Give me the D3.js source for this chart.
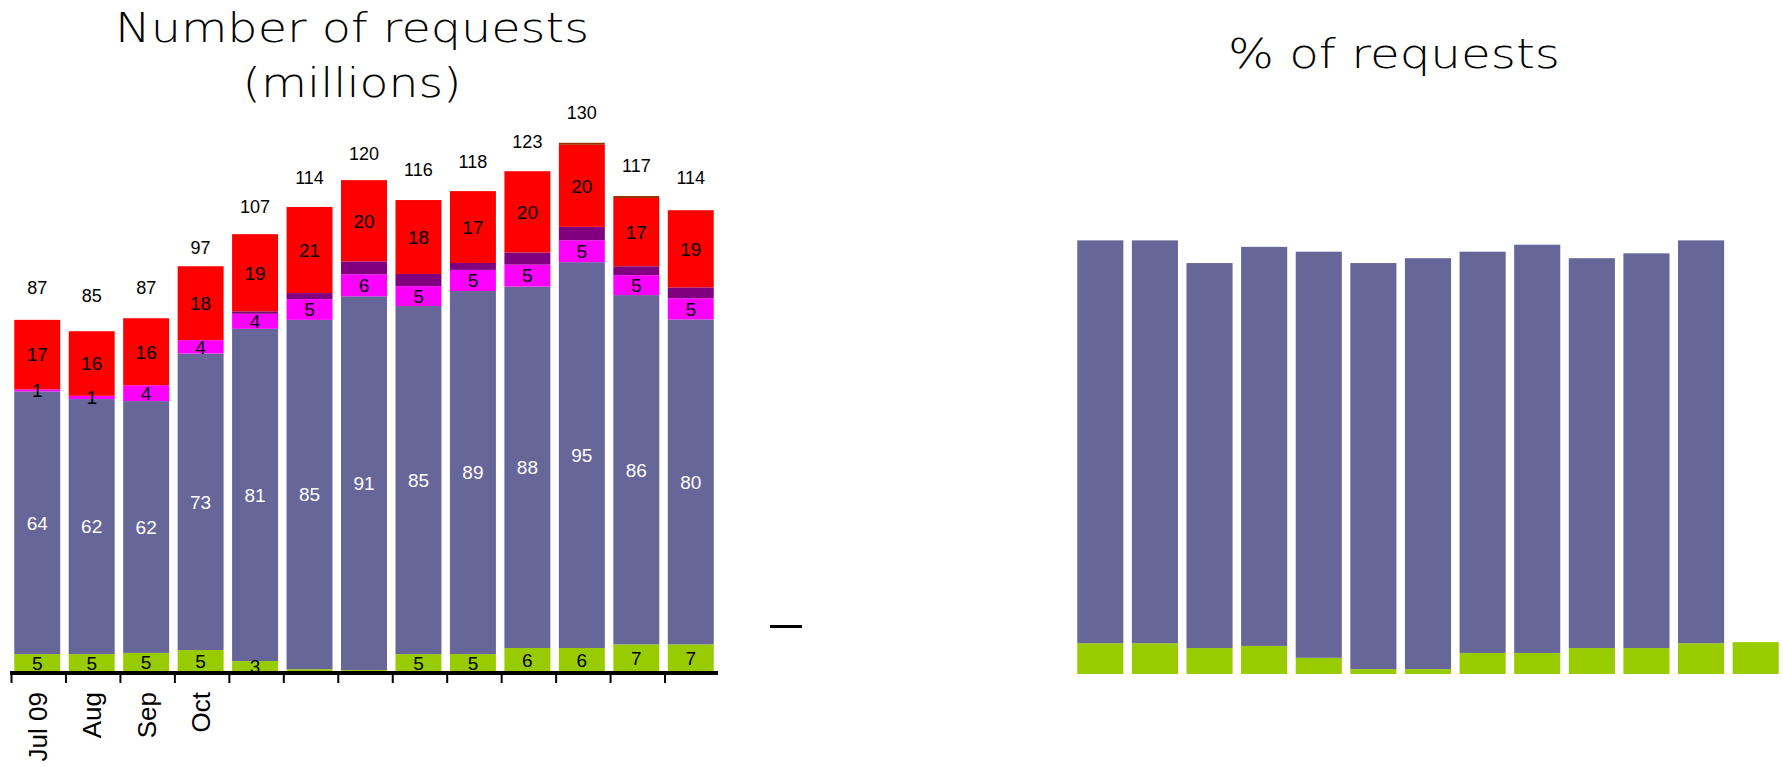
<!DOCTYPE html>
<html>
<head>
<meta charset="utf-8">
<script src="https://cdn.jsdelivr.net/npm/d3@7"></script>
<style>
  body { margin: 0; background: #fff; }
  svg { display: block; }
</style>
</head>
<body>
<div id="chart"></div>
<script>
// months on the x axis (only the first four are labelled in the original)
const months = ["Jul 09", "Aug", "Sep", "Oct", "Nov", "Dec", "Jan", "Feb", "Mar", "Apr", "May", "Jun", "Jul 10"];
const tickLabels = ["Jul 09", "Aug", "Sep", "Oct", "", "", "", "", "", "", "", "", ""];

// requests in millions, per segment
const green   = [4.4, 4.4, 4.7, 5.4, 2.7, 0.7, 0.5, 4.4, 4.4, 5.9, 5.9, 6.8, 6.8];
const blue    = [64.7, 62.8, 62, 73, 81.8, 86, 92, 85.7, 89.4, 89, 95, 86, 80];
const magenta = [0.5, 0.8, 3.9, 3.3, 3.7, 5.1, 5.4, 4.9, 5.2, 5.4, 5.4, 4.9, 5.2];
const purple  = [0, 0, 0, 0, 0.6, 1.5, 3.2, 3, 1.7, 3, 3.3, 2.2, 2.7];
const red     = [17.1, 15.9, 16.5, 18.2, 19, 21.2, 20, 18.2, 17.7, 20, 20.2, 16.8, 19];
const brown   = [0, 0, 0, 0, 0, 0, 0, 0, 0, 0, 0.5, 0.5, 0];

// labels printed in the segments and above the bars
const greenLabels   = ["5", "5", "5", "5", "3", "", "", "5", "5", "6", "6", "7", "7"];
const blueLabels    = ["64", "62", "62", "73", "81", "85", "91", "85", "89", "88", "95", "86", "80"];
const magentaLabels = ["1", "1", "4", "4", "4", "5", "6", "5", "5", "5", "5", "5", "5"];
const redLabels     = ["17", "16", "16", "18", "19", "21", "20", "18", "17", "20", "20", "17", "19"];
const totals        = [87, 85, 87, 97, 107, 114, 120, 116, 118, 123, 130, 117, 114];

// share of requests in percent (right chart)
const pctGreen = [5.7, 5.7, 4.8, 5.2, 3.0, 0.9, 0.9, 3.9, 3.9, 4.8, 4.8, 5.7, 5.9];
const pctBlue  = [74.6, 74.6, 71.3, 73.9, 75.2, 75.2, 76.1, 74.3, 75.6, 72.2, 73.1, 74.6, 0];

const colors = {
  green: "#99cc00",
  blue: "#666699",
  magenta: "#ff00ff",
  purple: "#800080",
  red: "#ff0000",
  brown: "#993300"
};

const width = 1783;
const height = 767;
const labelFont = "Liberation Sans, Arial, sans-serif";

const svg = d3.select("#chart").append("svg")
  .attr("width", width)
  .attr("height", height);

drawCountChart();
drawPercentChart();

function drawCountChart() {
  const rows = months.map((m, i) => ({
    month: m,
    green: green[i], blue: blue[i], magenta: magenta[i],
    purple: purple[i], red: red[i], brown: brown[i]
  }));

  const keys = ["green", "blue", "magenta", "purple", "red", "brown"];
  const series = d3.stack().keys(keys)(rows);

  const x = d3.scaleBand()
    .domain(months)
    .range([10, 718])
    .paddingInner(0.156)
    .paddingOuter(0.078);

  const y = d3.scaleLinear()
    .domain([0, 130])
    .range([672, 144]);

  const g = svg.append("g");

  // title (glyphs stretched to the width of the original)
  const title = g.append("text")
    .attr("text-anchor", "middle")
    .attr("font-family", "DejaVu Sans")
    .attr("font-weight", 200)
    .attr("font-size", 40)
    .attr("fill", "#000");
  title.append("tspan").attr("x", 352).attr("y", 42)
    .attr("textLength", 474).attr("lengthAdjust", "spacingAndGlyphs")
    .text("Number of requests");
  title.append("tspan").attr("x", 352).attr("y", 97)
    .attr("textLength", 219).attr("lengthAdjust", "spacingAndGlyphs")
    .text("(millions)");

  // stacked bars
  g.selectAll("g.layer")
    .data(series)
    .enter()
    .append("g")
    .attr("class", "layer")
    .attr("fill", d => colors[d.key])
    .selectAll("rect")
    .data(d => d)
    .enter()
    .append("rect")
    .attr("x", d => x(d.data.month))
    .attr("y", d => y(d[1]))
    .attr("width", x.bandwidth())
    .attr("height", d => y(d[0]) - y(d[1]));

  // segment labels
  const labelSets = {
    green: { text: greenLabels, color: "#000" },
    blue: { text: blueLabels, color: "#fff" },
    magenta: { text: magentaLabels, color: "#000" },
    red: { text: redLabels, color: "#000" }
  };

  series.forEach(s => {
    const set = labelSets[s.key];
    if (!set) return;
    g.append("g")
      .selectAll("text")
      .data(s)
      .enter()
      .append("text")
      .attr("x", d => x(d.data.month) + x.bandwidth() / 2)
      .attr("y", d => (y(d[0]) + y(d[1])) / 2)
      .attr("dy", "0.36em")
      .attr("text-anchor", "middle")
      .attr("font-family", labelFont)
      .attr("font-size", 19)
      .attr("fill", set.color)
      .text((d, i) => set.text[i]);
  });

  // totals above the bars
  g.append("g")
    .selectAll("text")
    .data(totals)
    .enter()
    .append("text")
    .attr("x", (d, i) => x(months[i]) + x.bandwidth() / 2)
    .attr("y", d => y(d) - 31)
    .attr("dy", "0.36em")
    .attr("text-anchor", "middle")
    .attr("font-family", labelFont)
    .attr("font-size", 18)
    .attr("fill", "#000")
    .text(d => d);

  // x axis: thick baseline, ticks between the bars
  const step = x.step();
  const gap = step * x.paddingInner();
  const boundaries = months.map(m => x(m) - gap / 2);

  g.append("line")
    .attr("x1", boundaries[0])
    .attr("x2", x(months[months.length - 1]) + x.bandwidth() + gap / 2)
    .attr("y1", 673)
    .attr("y2", 673)
    .attr("stroke", "#000")
    .attr("stroke-width", 4);

  g.append("g")
    .selectAll("line")
    .data(boundaries)
    .enter()
    .append("line")
    .attr("x1", d => d + 1.5)
    .attr("x2", d => d + 1.5)
    .attr("y1", 673)
    .attr("y2", 683)
    .attr("stroke", "#000")
    .attr("stroke-width", 2);

  g.append("g")
    .selectAll("text")
    .data(tickLabels)
    .enter()
    .append("text")
    .attr("transform", (d, i) => `translate(${x(months[i]) + x.bandwidth() / 2},692) rotate(-90)`)
    .attr("dy", "0.36em")
    .attr("text-anchor", "end")
    .attr("font-family", labelFont)
    .attr("font-size", 26)
    .attr("fill", "#000")
    .text(d => d);

  // small stray dash between the charts
  g.append("line")
    .attr("x1", 770)
    .attr("x2", 802)
    .attr("y1", 626.5)
    .attr("y2", 626.5)
    .attr("stroke", "#000")
    .attr("stroke-width", 3);
}

function drawPercentChart() {
  const rows = months.map((m, i) => ({ month: m, green: pctGreen[i], blue: pctBlue[i] }));
  const series = d3.stack().keys(["green", "blue"])(rows);

  const x = d3.scaleBand()
    .domain(months)
    .range([1073, 1783])
    .paddingInner(0.156)
    .paddingOuter(0.078);

  const y = d3.scaleLinear()
    .domain([0, 100])
    .range([674, 134]);

  const g = svg.append("g");

  g.append("text")
    .attr("x", 1394)
    .attr("y", 68)
    .attr("text-anchor", "middle")
    .attr("font-family", "DejaVu Sans")
    .attr("font-weight", 200)
    .attr("font-size", 40)
    .attr("textLength", 332)
    .attr("lengthAdjust", "spacingAndGlyphs")
    .attr("fill", "#000")
    .text("% of requests");

  g.selectAll("g.layer")
    .data(series)
    .enter()
    .append("g")
    .attr("class", "layer")
    .attr("fill", d => colors[d.key])
    .selectAll("rect")
    .data(d => d.filter(v => v[1] > v[0]))
    .enter()
    .append("rect")
    .attr("x", d => x(d.data.month))
    .attr("y", d => y(d[1]))
    .attr("width", x.bandwidth())
    .attr("height", d => y(d[0]) - y(d[1]));
}
</script>
</body>
</html>
